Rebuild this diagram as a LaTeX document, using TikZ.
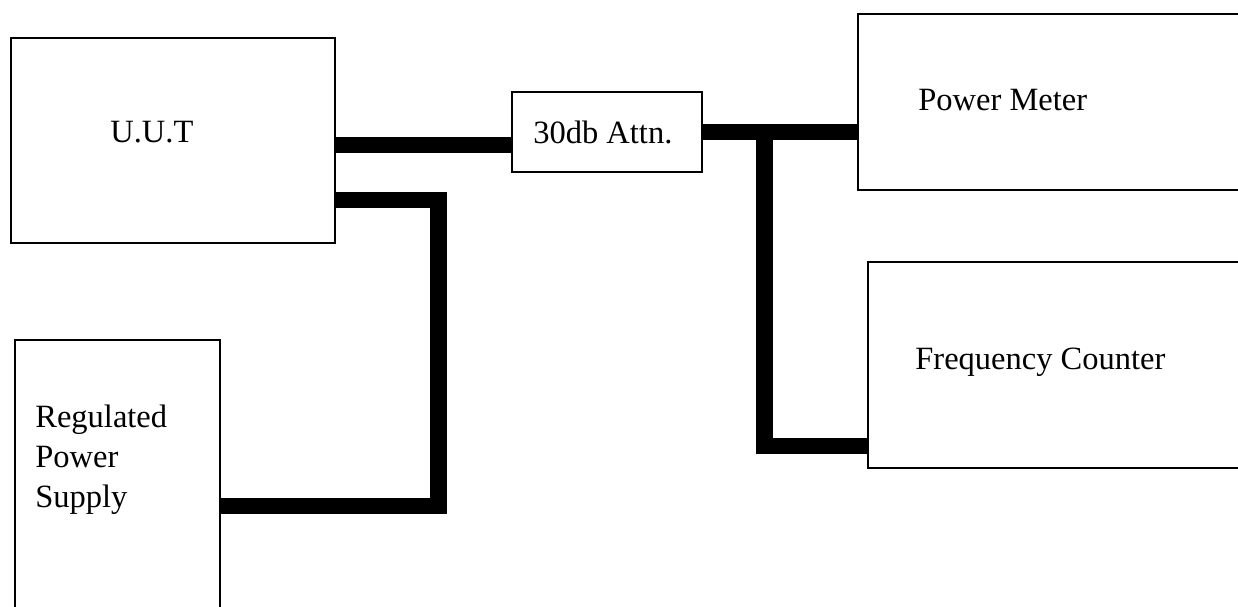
\documentclass[tikz,border=0pt]{standalone}
\usepackage{fontspec}
\setmainfont{Liberation Serif}
\usetikzlibrary{fit,calc}
\begin{document}
\begin{tikzpicture}[x=0.02cm,y=-0.02cm,
  box/.style={draw=black,line width=1.5pt,inner sep=0pt,rectangle},
  wire/.style={draw=black,line width=9.5pt,line cap=butt,line join=miter},
  lbl/.style={inner sep=0pt,font=\fontsize{18.5}{22.7}\selectfont}]
\useasboundingbox (0,0) rectangle (1238,606);
% boxes
\node[box,fit={(11,38) (335,243)}] (uut) {};
\node[box,fit={(512,92) (702,172)}] (attn) {};
\node[box,fit={(858,14) (1250,190)}] (pm) {};
\node[box,fit={(868,262) (1250,468)}] (fc) {};
\node[box,fit={(15,340) (220,610)}] (ps) {};
% labels
\node[lbl,anchor=base west] (tuut) at (110,142) {U.U.T};
\node[lbl,anchor=base west] (tattn) at (533,143) {30db Attn.};
\node[lbl,anchor=base west] (tpm) at (918,110) {Power Meter};
\node[lbl,anchor=base west] (tfc) at (915,369) {Frequency Counter};
\node[lbl,anchor=north west,align=left] (tps) at (35,405) {Regulated\\Power\\Supply};
% connectors
\coordinate (ua) at ([yshift=-0.09cm]uut.east);
\draw[wire] (ua) -- (attn.west |- ua);
\coordinate (br) at ($(attn.east)+(61,0)$);
\draw[wire] (attn.east) -- (attn.east -| pm.west);
\draw[wire] (br) |- ([yshift=-1.62cm]fc.west);
\coordinate (psa) at ([yshift=-1.19cm]uut.east);
\coordinate (psb) at ([yshift=-0.62cm]ps.east);
\draw[wire] (psa) -| ($(psa)+(102,0)$) |- (psb);
\end{tikzpicture}
\end{document}
